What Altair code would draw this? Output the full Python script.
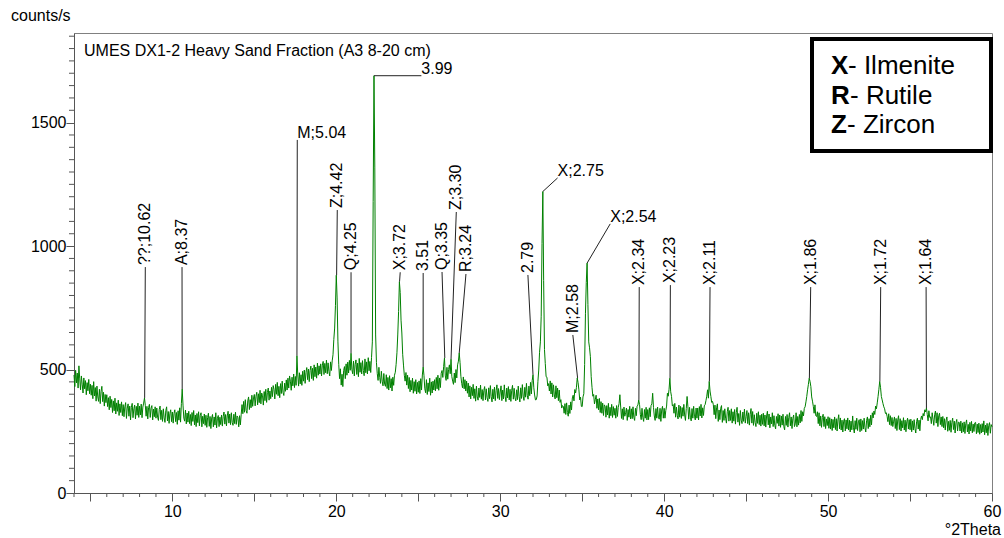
import altair as alt
import pandas as pd

# ---- XRD scan: counts/s, 20 readings per degree 2Theta (step 0.05) ----
SCAN_STEP = 0.05

scan_04_10 = {
    4: [478, 431, 497, 446, 486, 425, 515, 462, 418, 474, 441, 405, 466, 422, 455, 398, 447, 414, 460, 402],
    5: [441, 396, 436, 382, 451, 393, 427, 372, 433, 389, 371, 420, 362, 412, 432, 370, 408, 352, 399, 366],
    6: [398, 350, 386, 337, 392, 346, 379, 326, 373, 333, 384, 320, 365, 331, 376, 314, 361, 326, 369, 313],
    7: [358, 309, 349, 366, 302, 344, 361, 311, 352, 296, 347, 363, 305, 341, 356, 300, 351, 315, 364, 306],
    8: [352, 316, 360, 305, 348, 364, 385, 355, 311, 351, 300, 346, 359, 306, 343, 354, 296, 340, 309, 349],
    9: [303, 344, 307, 294, 338, 352, 297, 335, 290, 341, 304, 286, 334, 349, 292, 330, 282, 323, 337, 289],
}
scan_10_20 = {
    10: [328, 283, 322, 337, 289, 326, 278, 333, 295, 345, 287, 362, 421, 356, 303, 291, 336, 280, 324, 287],
    11: [331, 281, 318, 273, 326, 290, 334, 276, 316, 269, 322, 285, 329, 272, 313, 325, 268, 311, 281, 320],
    12: [274, 315, 266, 306, 323, 270, 310, 261, 304, 318, 268, 308, 275, 325, 264, 303, 314, 269, 307, 277],
    13: [316, 271, 310, 328, 279, 318, 272, 312, 331, 283, 320, 277, 325, 286, 274, 319, 281, 327, 278, 312],
    14: [305, 268, 313, 276, 319, 358, 321, 371, 327, 378, 334, 323, 373, 389, 338, 378, 345, 396, 351, 385],
    15: [399, 353, 392, 408, 357, 402, 366, 416, 361, 405, 394, 356, 411, 374, 420, 367, 407, 425, 376, 413],
    16: [382, 428, 390, 435, 419, 381, 440, 400, 448, 394, 432, 386, 443, 403, 453, 407, 395, 445, 412, 458],
    17: [417, 465, 425, 474, 453, 416, 469, 434, 482, 427, 472, 436, 556, 478, 433, 487, 442, 479, 436, 493],
    18: [453, 498, 444, 489, 508, 459, 502, 451, 496, 514, 463, 505, 456, 519, 471, 510, 465, 526, 477, 515],
    19: [482, 523, 474, 518, 533, 480, 525, 487, 538, 483, 527, 492, 474, 531, 496, 535, 560, 622, 668, 760],
}
scan_20_30 = {
    20: [882, 790, 612, 521, 463, 503, 437, 481, 431, 496, 512, 463, 523, 477, 530, 486, 537, 497, 566, 500],
    21: [483, 534, 474, 521, 539, 480, 526, 471, 545, 489, 528, 482, 536, 496, 475, 543, 487, 531, 482, 548],
    22: [495, 533, 488, 548, 612, 1180, 1690, 1320, 640, 528, 483, 456, 509, 467, 444, 493, 453, 434, 484, 440],
    23: [432, 479, 423, 468, 417, 475, 426, 463, 413, 469, 436, 477, 489, 521, 568, 640, 735, 856, 812, 700],
    24: [648, 562, 518, 477, 453, 488, 437, 477, 423, 468, 410, 456, 417, 465, 404, 451, 412, 459, 401, 448],
    25: [408, 454, 403, 463, 417, 478, 510, 475, 422, 406, 459, 399, 446, 411, 465, 396, 450, 405, 453, 417],
    26: [459, 413, 468, 422, 477, 416, 466, 427, 485, 496, 468, 513, 547, 474, 456, 509, 461, 500, 519, 483],
    27: [542, 471, 453, 440, 486, 447, 500, 466, 519, 534, 567, 528, 473, 444, 426, 470, 422, 459, 413, 453],
    28: [404, 445, 389, 434, 381, 428, 394, 440, 383, 422, 372, 433, 389, 376, 425, 387, 437, 380, 419, 374],
    29: [415, 431, 377, 422, 386, 371, 426, 382, 435, 390, 369, 420, 381, 429, 374, 414, 438, 383, 423, 378],
}
scan_30_40 = {
    30: [409, 434, 374, 417, 381, 438, 392, 370, 425, 385, 431, 377, 420, 371, 416, 436, 380, 424, 386, 373],
    31: [418, 378, 433, 390, 369, 426, 383, 439, 392, 375, 428, 388, 444, 396, 380, 433, 394, 448, 401, 455],
    32: [479, 426, 397, 377, 378, 393, 452, 498, 570, 612, 716, 1010, 1221, 860, 581, 524, 471, 469, 434, 443],
    33: [413, 454, 401, 446, 389, 438, 397, 381, 434, 386, 425, 374, 417, 367, 378, 344, 354, 351, 323, 362],
    34: [318, 365, 326, 311, 356, 322, 369, 336, 385, 396, 373, 419, 405, 428, 466, 447, 418, 377, 388, 351],
    35: [350, 389, 402, 520, 728, 852, 931, 764, 612, 588, 552, 471, 428, 392, 399, 361, 378, 396, 343, 381],
    36: [337, 383, 326, 370, 323, 364, 314, 357, 351, 307, 354, 316, 363, 303, 347, 313, 359, 306, 350, 315],
    37: [343, 303, 354, 310, 347, 362, 398, 348, 302, 341, 297, 348, 311, 325, 344, 294, 338, 307, 351, 300],
    38: [341, 301, 349, 306, 294, 343, 313, 352, 356, 377, 358, 317, 297, 343, 305, 290, 338, 303, 347, 296],
    39: [338, 297, 345, 309, 354, 361, 404, 346, 312, 294, 342, 303, 348, 307, 299, 343, 290, 336, 351, 303],
}
scan_40_50 = {
    40: [343, 303, 334, 352, 404, 392, 420, 465, 410, 391, 353, 358, 323, 363, 307, 348, 315, 300, 356, 307],
    41: [351, 302, 346, 311, 359, 316, 294, 342, 391, 349, 299, 347, 307, 292, 342, 303, 351, 311, 296, 344],
    42: [303, 344, 296, 350, 312, 359, 304, 345, 314, 353, 358, 374, 392, 418, 384, 452, 413, 391, 367, 371],
    43: [358, 317, 356, 301, 345, 361, 290, 336, 297, 343, 354, 286, 334, 294, 341, 303, 283, 329, 347, 291],
    44: [334, 294, 341, 283, 329, 291, 338, 279, 326, 347, 287, 322, 274, 334, 295, 281, 328, 290, 340, 283],
    45: [309, 334, 281, 325, 275, 319, 342, 283, 330, 274, 317, 286, 269, 323, 282, 329, 277, 315, 271, 319],
    46: [278, 323, 272, 316, 267, 312, 331, 276, 320, 264, 308, 280, 325, 269, 313, 274, 260, 310, 282, 321],
    47: [271, 316, 266, 312, 275, 319, 269, 256, 310, 274, 318, 267, 305, 325, 272, 308, 261, 302, 316, 269],
    48: [280, 325, 268, 310, 275, 318, 284, 334, 290, 329, 312, 343, 349, 369, 391, 418, 440, 465, 452, 431],
    49: [389, 372, 351, 323, 357, 313, 310, 329, 281, 325, 272, 312, 266, 306, 319, 269, 309, 261, 300, 273],
}
scan_50_60 = {
    50: [309, 262, 305, 259, 300, 253, 298, 264, 308, 257, 301, 251, 296, 317, 260, 304, 255, 295, 247, 291],
    51: [301, 251, 296, 260, 304, 255, 295, 247, 291, 256, 312, 264, 243, 293, 258, 303, 253, 288, 297, 248],
    52: [300, 253, 293, 259, 303, 264, 247, 294, 308, 261, 301, 268, 315, 276, 325, 304, 332, 318, 352, 341],
    53: [365, 391, 420, 452, 428, 391, 377, 362, 349, 341, 322, 325, 311, 289, 321, 277, 313, 273, 306, 269],
    54: [291, 308, 261, 302, 253, 296, 313, 257, 301, 251, 293, 264, 305, 255, 295, 248, 288, 303, 259, 297],
    55: [256, 299, 248, 292, 255, 297, 261, 243, 289, 303, 259, 295, 252, 298, 312, 297, 322, 312, 337, 328],
    56: [344, 318, 292, 333, 306, 308, 281, 325, 299, 274, 317, 332, 283, 325, 269, 313, 323, 277, 308, 269],
    57: [310, 264, 301, 255, 295, 308, 250, 290, 254, 294, 246, 286, 303, 257, 291, 243, 284, 298, 251, 287],
    58: [286, 251, 291, 243, 284, 248, 288, 241, 281, 296, 247, 278, 239, 286, 251, 290, 244, 279, 249, 284],
    59: [286, 240, 279, 245, 283, 238, 277, 243, 281, 247, 292, 236, 275, 244, 282, 233, 273, 285, 242, 277],
    60: [268],
}

# ---- peak annotations (d-spacings with phase code) ----
peak_labels = ["??;10.62", "A;8.37", "M;5.04", "Z;4.42", "Q;4.25", "3.99", "X;3.72",
               "3.51", "Q;3.35", "Z;3.30", "R;3.24", "2.79", "X;2.75", "M;2.58",
               "X;2.54", "X;2.34", "X;2.23", "X;2.11", "X;1.86", "X;1.72", "X;1.64"]
peak_2theta = [8.31, 10.6, 17.6, 20.02, 20.9, 22.3, 23.86, 25.3, 26.62, 27.0, 27.5,
               32.0, 32.6, 34.72, 35.3, 38.46, 40.36, 42.76, 48.86, 53.16, 56.0]
peak_counts = [385, 421, 556, 882, 566, 1690, 856, 510, 547, 542, 567,
               479, 1221, 466, 931, 377, 465, 452, 465, 452, 344]
label_2theta = [8.35, 10.59, 17.62, 20.06, 20.9, 25.19, 23.9, 25.3, 26.45, 27.32, 27.91,
                31.69, 33.5, 34.43, 36.71, 38.48, 40.38, 42.8, 48.94, 53.21, 55.98]
label_counts = [915, 915, 1430, 1146, 894, 1690, 894, 891, 895, 1138, 887,
                883, 1276, 640, 1090, 834, 842, 834, 834, 834, 834]
label_flat = [False, False, True, False, False, True, False, False, False, False, False,
              False, True, False, True, False, False, False, False, False, False]

# ---- legend entries ----
legend_codes = ["X", "R", "Z"]
legend_names = ["- Ilmenite", "- Rutile", "- Zircon"]

# ---- axis ticks ----
x_major_ticks = list(range(5, 61, 5))
x_minor_ticks = [t for t in range(4, 61) if t % 5 != 0]
y_major_ticks = [0, 500, 1000, 1500]
y_minor_ticks = [t for t in range(50, 1863, 50) if t % 500 != 0]

# flatten the per-degree readings into one table
two_theta, counts = [], []
for block in (scan_04_10, scan_10_20, scan_20_30, scan_30_40, scan_40_50, scan_50_60):
    for deg, row in block.items():
        for j, c in enumerate(row):
            two_theta.append(round(deg + j * SCAN_STEP, 2))
            counts.append(c)

W, H = 918, 460
FONT = "Liberation Sans"
AXIS_GREY = "#555555"

x_scale = alt.Scale(domain=[4, 60], nice=False, zero=False)
y_scale = alt.Scale(domain=[0, 1863], nice=False, zero=False)

scan = pd.DataFrame({"two_theta": two_theta, "counts": counts})
ann = pd.DataFrame({
    "label": peak_labels, "px": peak_2theta, "py": peak_counts,
    "lx": label_2theta, "ly": label_counts, "flat": label_flat,
})

x_axis = alt.Axis(
    values=x_major_ticks, tickSize=8, tickColor=AXIS_GREY, domainColor=AXIS_GREY,
    labelExpr="datum.value % 10 === 0 ? datum.label : ''",
    labelFont=FONT, labelFontSize=16, labelColor="black", labelPadding=2,
    labelOverlap=False, labelFlush=False, grid=False, title=None,
)
y_axis = alt.Axis(
    values=y_major_ticks, format="d", tickSize=8, tickColor=AXIS_GREY, domainColor=AXIS_GREY,
    labelFont=FONT, labelFontSize=16, labelColor="black", labelPadding=0,
    labelOverlap=False, labelFlush=False, grid=False, title=None,
)


def xq(field):
    return alt.X(field, type="quantitative", scale=x_scale, axis=x_axis)


def yq(field):
    return alt.Y(field, type="quantitative", scale=y_scale, axis=y_axis)


trace = alt.Chart(scan).mark_line(color="#008000", strokeWidth=1).encode(
    x=xq("two_theta"), y=yq("counts"),
)

x_minor = alt.Chart(pd.DataFrame({"t": x_minor_ticks})).mark_rule(color=AXIS_GREY).encode(
    x=xq("t"), y=alt.value(H), y2=alt.value(H + 4),
)
y_minor = alt.Chart(pd.DataFrame({"t": y_minor_ticks})).mark_rule(color=AXIS_GREY).encode(
    y=yq("t"), x=alt.value(0), x2=alt.value(-5),
)

leaders = alt.Chart(ann).mark_rule(color="#222222", strokeWidth=1).encode(
    x=xq("px"), x2="lx:Q", y=yq("py"), y2="ly:Q",
)

upright_labels = alt.Chart(ann).transform_filter("!datum.flat").mark_text(
    angle=270, align="left", baseline="middle", dx=2, font=FONT, fontSize=16, color="black"
).encode(x=xq("lx"), y=yq("ly"), text="label:N")

flat_labels = alt.Chart(ann).transform_filter("datum.flat").mark_text(
    align="left", baseline="alphabetic", dy=-2, font=FONT, fontSize=16, color="black"
).encode(x=xq("lx"), y=yq("ly"), text="label:N")


def caption(text, x, y, align="left", size=16, weight="normal"):
    return alt.Chart(pd.DataFrame({"t": [text]})).mark_text(
        align=align, baseline="alphabetic", font=FONT, fontSize=size,
        fontWeight=weight, color="black"
    ).encode(x=alt.value(x), y=alt.value(y), text="t:N")


y_title = caption("counts/s", -63, -12)
x_title = caption("°2Theta", 927, 502, align="right")
sample_title = caption("UMES DX1-2 Heavy Sand Fraction (A3 8-20 cm)", 10, 23)

legend_box = alt.Chart(pd.DataFrame({"k": [0]})).mark_rect(
    fill="white", stroke="black", strokeWidth=4
).encode(x=alt.value(738), x2=alt.value(917), y=alt.value(6), y2=alt.value(118))

legend_layers = []
legend_rows_y = [41, 71, 100]
legend_name_x = [774, 776, 773]
for code, name, ry, nx in zip(legend_codes, legend_names, legend_rows_y, legend_name_x):
    legend_layers.append(caption(code, 757, ry, size=26, weight="bold"))
    legend_layers.append(caption(name, nx, ry, size=26))

chart = alt.layer(
    trace, x_minor, y_minor, leaders, upright_labels, flat_labels,
    y_title, x_title, sample_title, legend_box, *legend_layers,
).properties(
    width=W, height=H,
    padding={"left": 74, "top": 33, "right": 12, "bottom": 45},
    autosize=alt.AutoSizeParams(type="none"),
).configure_view(stroke="#808080", strokeWidth=1)

chart.save("out.html", embed_options={"renderer": "svg", "actions": False})
